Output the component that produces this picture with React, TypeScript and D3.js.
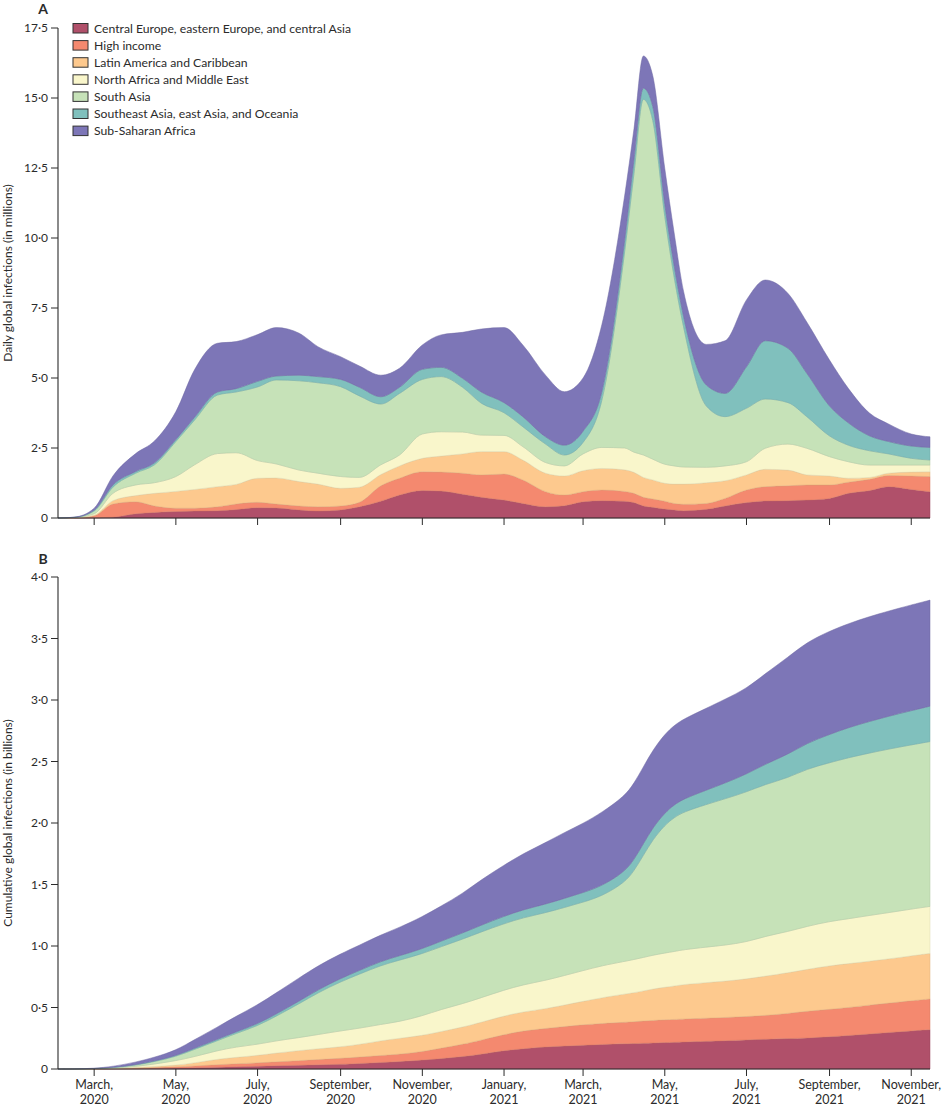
import React from "react";
import * as d3 from "d3";

// ---------- data ----------
const dates = [
  "2020-02-03","2020-02-15","2020-03-01","2020-03-15","2020-04-01","2020-04-15","2020-05-01","2020-05-15",
  "2020-06-01","2020-06-15","2020-07-01","2020-07-15","2020-08-01","2020-08-15","2020-09-01","2020-09-15",
  "2020-10-01","2020-10-15","2020-11-01","2020-11-15","2020-12-01","2020-12-15","2021-01-01","2021-01-15",
  "2021-02-01","2021-02-15","2021-03-01","2021-03-15","2021-04-01","2021-04-08","2021-04-15","2021-04-22",
  "2021-05-01","2021-05-08","2021-05-15","2021-06-01","2021-06-15","2021-07-01","2021-07-15","2021-08-01",
  "2021-08-15","2021-09-01","2021-09-15","2021-10-01","2021-10-15","2021-11-01","2021-11-15"
];

const regions = [
  "Central Europe, eastern Europe, and central Asia",
  "High income",
  "Latin America and Caribbean",
  "North Africa and Middle East",
  "South Asia",
  "Southeast Asia, east Asia, and Oceania",
  "Sub-Saharan Africa"
];
const regionColors = ["#b0506a", "#f4896f", "#fdc98e", "#f9f6cb", "#c6e2b8", "#80c0bd", "#7d76b7"];

// Daily infections (millions)
const dailyCE = [0,0,0.01,0.03,0.15,0.2,0.23,0.25,0.26,0.3,0.37,0.36,0.29,0.25,0.29,0.4,0.6,0.82,0.98,0.96,0.85,0.74,0.64,0.52,0.4,0.44,0.58,0.62,0.6,0.55,0.43,0.38,0.32,0.29,0.26,0.31,0.43,0.55,0.61,0.62,0.64,0.7,0.88,0.98,1.12,1.02,0.94];
const dailyHI = [0,0.005,0.07,0.47,0.43,0.23,0.12,0.1,0.14,0.2,0.19,0.14,0.14,0.15,0.14,0.16,0.55,0.6,0.67,0.68,0.75,0.8,0.93,0.84,0.54,0.38,0.36,0.38,0.35,0.33,0.31,0.3,0.28,0.23,0.23,0.21,0.27,0.45,0.51,0.53,0.54,0.48,0.4,0.4,0.4,0.48,0.54];
const dailyLA = [0,0.005,0.02,0.12,0.22,0.45,0.6,0.67,0.72,0.7,0.86,0.93,0.87,0.81,0.63,0.54,0.4,0.44,0.48,0.57,0.69,0.83,0.8,0.71,0.66,0.68,0.75,0.77,0.77,0.75,0.71,0.68,0.64,0.69,0.72,0.74,0.63,0.54,0.62,0.56,0.36,0.32,0.14,0.07,0.08,0.14,0.17];
const dailyNA = [0,0.005,0.05,0.26,0.38,0.38,0.53,0.88,1.18,1.13,0.63,0.5,0.41,0.39,0.42,0.35,0.35,0.39,0.87,0.87,0.78,0.59,0.58,0.48,0.38,0.36,0.6,0.75,0.78,0.72,0.8,0.74,0.68,0.65,0.61,0.55,0.53,0.47,0.75,0.93,0.95,0.69,0.59,0.44,0.29,0.25,0.24];
const dailySA = [0,0.005,0.1,0.22,0.42,0.64,1.25,1.6,2.09,2.17,2.63,3.0,3.19,3.23,3.21,2.91,2.17,2.2,1.95,1.97,1.6,1.14,0.81,0.71,0.66,0.39,0.41,1.68,7.0,9.95,12.7,12.1,8.85,6.74,5.01,2.19,1.76,1.91,1.76,1.48,1.13,0.74,0.59,0.51,0.4,0.24,0.18];
const dailySE = [0,0.005,0.03,0.08,0.06,0.07,0.07,0.1,0.11,0.12,0.2,0.14,0.2,0.22,0.26,0.31,0.26,0.22,0.36,0.33,0.32,0.4,0.36,0.36,0.26,0.35,0.4,0.3,0.4,0.5,0.4,0.5,0.43,0.4,0.37,0.75,0.83,1.48,2.08,1.94,1.55,1.07,0.8,0.53,0.44,0.44,0.45];
const dailySSA = [0,0.005,0.07,0.32,0.64,0.78,1.0,1.7,1.74,1.68,1.67,1.73,1.5,1.07,0.81,0.76,0.77,0.68,0.87,1.16,1.64,2.25,2.68,2.56,2.2,1.91,1.9,2.4,1.6,1.1,1.15,1.1,1.28,1.18,0.9,1.45,1.88,2.39,2.17,1.96,1.83,1.64,1.23,0.81,0.63,0.43,0.38];

// Cumulative infections (billions)
const cumCE = [0,0,0,0.001,0.003,0.005,0.008,0.011,0.015,0.019,0.023,0.027,0.031,0.034,0.038,0.045,0.053,0.06,0.072,0.085,0.1,0.12,0.15,0.165,0.18,0.187,0.193,0.2,0.205,0.207,0.21,0.212,0.215,0.217,0.22,0.225,0.23,0.237,0.242,0.247,0.252,0.262,0.272,0.285,0.297,0.31,0.32];
const cumHI = [0,0,0.001,0.002,0.005,0.007,0.009,0.014,0.02,0.024,0.027,0.031,0.037,0.043,0.049,0.052,0.057,0.06,0.068,0.085,0.1,0.115,0.13,0.145,0.15,0.158,0.167,0.17,0.175,0.178,0.18,0.183,0.185,0.186,0.187,0.188,0.189,0.19,0.193,0.205,0.218,0.223,0.228,0.235,0.238,0.245,0.25];
const cumLA = [0,0,0,0.002,0.004,0.008,0.013,0.025,0.045,0.052,0.06,0.072,0.082,0.088,0.093,0.103,0.12,0.13,0.132,0.135,0.14,0.145,0.152,0.155,0.16,0.175,0.19,0.21,0.23,0.235,0.245,0.255,0.265,0.272,0.28,0.29,0.295,0.305,0.32,0.33,0.34,0.355,0.356,0.357,0.36,0.365,0.37];
const cumNA = [0,0,0,0.001,0.008,0.02,0.037,0.05,0.07,0.085,0.09,0.1,0.105,0.115,0.13,0.131,0.133,0.135,0.16,0.18,0.19,0.2,0.21,0.22,0.23,0.24,0.25,0.26,0.265,0.27,0.272,0.275,0.278,0.28,0.283,0.288,0.293,0.3,0.325,0.335,0.35,0.36,0.365,0.372,0.376,0.38,0.382];
const cumSA = [0,0,0.001,0.004,0.01,0.02,0.033,0.06,0.08,0.11,0.15,0.2,0.275,0.34,0.4,0.44,0.48,0.5,0.505,0.51,0.525,0.535,0.54,0.545,0.55,0.553,0.556,0.565,0.64,0.72,0.83,0.94,1.04,1.09,1.12,1.16,1.19,1.22,1.235,1.25,1.28,1.29,1.31,1.32,1.33,1.335,1.34];
const cumSE = [0,0,0.001,0.002,0.004,0.005,0.007,0.009,0.011,0.013,0.016,0.018,0.021,0.024,0.027,0.03,0.033,0.036,0.04,0.045,0.05,0.055,0.06,0.065,0.07,0.074,0.078,0.082,0.088,0.091,0.094,0.097,0.1,0.103,0.106,0.116,0.128,0.145,0.165,0.19,0.21,0.23,0.245,0.257,0.267,0.278,0.288];
const cumSSA = [0,0,0.002,0.008,0.021,0.03,0.043,0.071,0.099,0.127,0.154,0.172,0.189,0.195,0.2,0.205,0.215,0.23,0.26,0.285,0.32,0.37,0.415,0.455,0.5,0.536,0.562,0.598,0.615,0.62,0.625,0.63,0.64,0.645,0.65,0.665,0.682,0.695,0.735,0.79,0.82,0.84,0.845,0.853,0.855,0.86,0.862];

const dailySeries = [dailyCE, dailyHI, dailyLA, dailyNA, dailySA, dailySE, dailySSA];
const cumSeries = [cumCE, cumHI, cumLA, cumNA, cumSA, cumSE, cumSSA];

const tickDates = ["2020-03-01","2020-05-01","2020-07-01","2020-09-01","2020-11-01","2021-01-01","2021-03-01","2021-05-01","2021-07-01","2021-09-01","2021-11-01"];
const tickMonths = ["March,","May,","July,","September,","November,","January,","March,","May,","July,","September,","November,"];
const tickYears = ["2020","2020","2020","2020","2020","2021","2021","2021","2021","2021","2021"];

const dailyTicks = [0, 2.5, 5, 7.5, 10, 12.5, 15, 17.5];
const cumTicks = [0, 0.5, 1, 1.5, 2, 2.5, 3, 3.5, 4];

// ---------- chart ----------
const FONT = "Lato, 'Open Sans', sans-serif";
const INK = "#2b2b2b";

const fmt = (v: number) => (v === 0 ? "0" : d3.format(".1f")(v).replace(".", "\u00b7"));

function Panel({ series, y, ticks, yLabel, letter, letterY, showLabels, x, parsed, curve }: any) {
  const keys = regions.map((_, i) => "k" + i);
  const rows = parsed.map((d: Date, j: number) => {
    const r: any = { date: d };
    keys.forEach((k, i) => (r[k] = series[i][j]));
    return r;
  });
  const stacked = d3.stack<any>().keys(keys)(rows);
  const area = d3
    .area<any>()
    .x((d) => x(d.data.date))
    .y0((d) => y(d[0]))
    .y1((d) => y(d[1]))
    .curve(curve);
  const [r0, r1] = y.range();
  const [xa, xb] = x.range();
  const yMid = (r0 + r1) / 2;
  const parseT = d3.timeParse("%Y-%m-%d");
  return (
    <g>
      {stacked.map((s, i) => (
        <path
          key={i}
          d={area(s) || ""}
          fill={regionColors[i]}
          stroke={d3.color(regionColors[i])!.darker(0.35).formatHex()}
          strokeWidth={0.5}
        />
      ))}
      {/* y axis */}
      <line x1={xa} x2={xa} y1={y(ticks[ticks.length - 1])} y2={r0} stroke={INK} strokeWidth={1.1} />
      {ticks.map((t: number) => (
        <g key={t}>
          <line x1={xa - 7} x2={xa} y1={y(t)} y2={y(t)} stroke={INK} strokeWidth={1} />
          <text x={xa - 10} y={y(t)} dy="0.35em" textAnchor="end" fontSize={12} fill={INK} fontFamily={FONT}>
            {fmt(t)}
          </text>
        </g>
      ))}
      <text
        transform={`translate(12,${yMid}) rotate(-90)`}
        textAnchor="middle"
        fontSize={12}
        fill={INK}
        fontFamily={FONT}
      >
        {yLabel}
      </text>
      {/* x axis */}
      <line x1={xa} x2={xb} y1={r0} y2={r0} stroke={INK} strokeWidth={1.1} />
      {tickDates.map((td, i) => {
        const tx = x(parseT(td)!);
        return (
          <g key={td}>
            <line x1={tx} x2={tx} y1={r0} y2={r0 + 7} stroke={INK} strokeWidth={1} />
            {showLabels && (
              <text x={tx} y={r0 + 20} textAnchor="middle" fontSize={12.5} fill={INK} fontFamily={FONT}>
                <tspan x={tx}>{tickMonths[i]}</tspan>
                <tspan x={tx} dy={15}>{tickYears[i]}</tspan>
              </text>
            )}
          </g>
        );
      })}
      <text x={43} y={letterY} textAnchor="middle" fontSize={14} fontWeight="bold" fill={INK} fontFamily={FONT}>
        {letter}
      </text>
    </g>
  );
}

export default function App() {
  const parseT = d3.timeParse("%Y-%m-%d");
  const parsed = dates.map((d) => parseT(d)!);
  const x = d3.scaleTime().domain([parseT("2020-02-03")!, parseT("2021-11-15")!]).range([58, 930]);
  const yTop = d3.scaleLinear().domain([0, 17.5]).range([518, 28]);
  const yBot = d3.scaleLinear().domain([0, 4]).range([1069, 577]);

  return (
    <svg width={942} height={1106} style={{ position: "absolute", left: 0, top: 0, background: "#fff" }}>
      <rect width={942} height={1106} fill="#fff" />
      <Panel
        series={dailySeries}
        y={yTop}
        ticks={dailyTicks}
        yLabel="Daily global infections (in millions)"
        letter="A"
        letterY={14}
        showLabels={false}
        x={x}
        parsed={parsed}
        curve={d3.curveMonotoneX}
      />
      <Panel
        series={cumSeries}
        y={yBot}
        ticks={cumTicks}
        yLabel="Cumulative global infections (in billions)"
        letter="B"
        letterY={564}
        showLabels={true}
        x={x}
        parsed={parsed}
        curve={d3.curveBasis}
      />
      {/* legend */}
      <g>
        {regions.map((r, i) => (
          <g key={r} transform={`translate(73,${23.5 + i * 17.1})`}>
            <rect width={15} height={9.5} fill={regionColors[i]} stroke="#333" strokeWidth={1} />
            <text x={21} y={5} dy="0.35em" fontSize={12.2} fill={INK} fontFamily={FONT}>
              {r}
            </text>
          </g>
        ))}
      </g>
    </svg>
  );
}
